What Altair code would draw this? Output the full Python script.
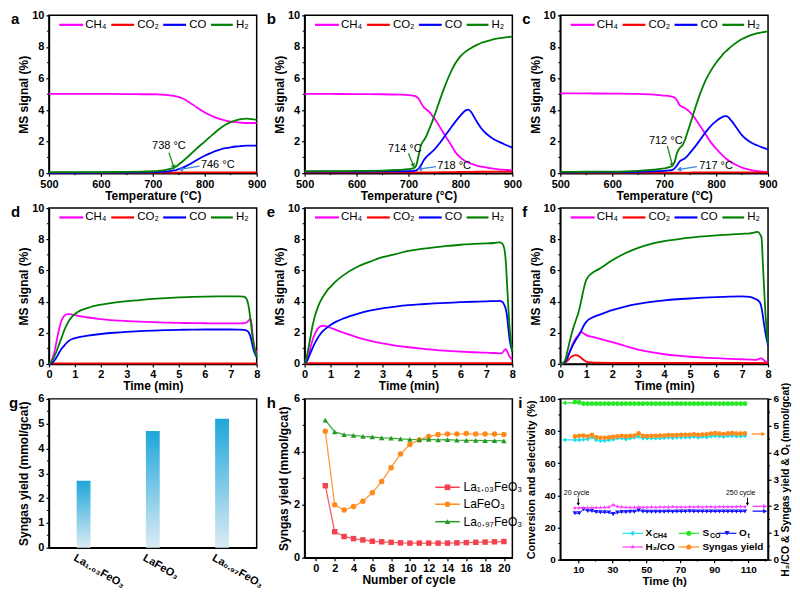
import math
import altair as alt
import pandas as pd

FONT = "Liberation Sans"

# ---------------- panels a-c : temperature-programmed ----------------
TEMP = [500, 550, 600, 650, 680, 700, 710, 715, 720, 725, 730, 735, 740, 745, 750,
        760, 770, 780, 790, 800, 810, 815, 820, 830, 840, 850, 860, 870, 880, 890, 900]

A_CH4 = [5.02, 5.02, 5.02, 5.01, 5.0, 5.0, 4.99, 4.98, 4.97, 4.96, 4.94, 4.92, 4.9, 4.87, 4.82,
         4.7, 4.5, 4.28, 4.05, 3.85, 3.68, 3.6, 3.53, 3.42, 3.33, 3.27, 3.23, 3.2, 3.18, 3.18, 3.18]
A_CO2 = [0.04, 0.04, 0.04, 0.04, 0.04, 0.04, 0.04, 0.04, 0.04, 0.04, 0.04, 0.04, 0.04, 0.04, 0.04,
         0.05, 0.05, 0.05, 0.05, 0.05, 0.05, 0.05, 0.05, 0.05, 0.05, 0.05, 0.05, 0.05, 0.05, 0.05, 0.05]
A_CO = [0.02, 0.02, 0.03, 0.04, 0.05, 0.06, 0.07, 0.08, 0.09, 0.1, 0.12, 0.14, 0.17, 0.2, 0.25,
        0.38, 0.55, 0.74, 0.93, 1.1, 1.25, 1.32, 1.4, 1.5, 1.58, 1.64, 1.69, 1.72, 1.74, 1.75, 1.74]
A_H2 = [0.06, 0.06, 0.07, 0.08, 0.1, 0.12, 0.14, 0.16, 0.18, 0.21, 0.25, 0.28, 0.33, 0.42, 0.55,
        0.82, 1.12, 1.42, 1.72, 2.0, 2.3, 2.44, 2.58, 2.85, 3.07, 3.23, 3.35, 3.42, 3.45, 3.43, 3.38]

B_CH4 = [5.02, 5.02, 5.01, 5.0, 4.98, 4.95, 4.9, 4.85, 4.7, 4.4, 4.15, 4.02, 3.88, 3.68, 3.46,
         2.95, 2.4, 1.9, 1.35, 0.98, 0.75, 0.66, 0.6, 0.5, 0.42, 0.36, 0.3, 0.26, 0.22, 0.2, 0.18]
B_CO2 = [0.05, 0.05, 0.05, 0.05, 0.05, 0.05, 0.05, 0.05, 0.05, 0.05, 0.05, 0.05, 0.05, 0.05, 0.05,
         0.06, 0.06, 0.07, 0.07, 0.08, 0.08, 0.08, 0.08, 0.09, 0.09, 0.09, 0.1, 0.1, 0.1, 0.1, 0.1]
B_CO = [0.1, 0.1, 0.1, 0.11, 0.12, 0.13, 0.15, 0.18, 0.3, 0.55, 0.85, 1.05, 1.2, 1.35, 1.5,
        1.9, 2.35, 2.8, 3.25, 3.65, 3.98, 4.03, 3.9, 3.35, 2.85, 2.5, 2.25, 2.05, 1.9, 1.75, 1.62]
B_H2 = [0.12, 0.13, 0.14, 0.16, 0.2, 0.25, 0.32, 0.5, 1.2, 1.85, 2.1, 2.4, 2.8, 3.2, 3.65,
        4.6, 5.5, 6.3, 6.95, 7.4, 7.7, 7.82, 7.92, 8.1, 8.25, 8.35, 8.45, 8.52, 8.57, 8.62, 8.66]

C_CH4 = [5.05, 5.05, 5.04, 5.02, 4.98, 4.92, 4.88, 4.85, 4.8, 4.6, 4.3, 4.2, 4.12, 4.0, 3.85,
         3.45, 2.95, 2.45, 1.95, 1.55, 1.2, 1.05, 0.9, 0.68, 0.5, 0.35, 0.25, 0.18, 0.13, 0.1, 0.08]
C_CO2 = [0.04, 0.04, 0.04, 0.04, 0.04, 0.04, 0.04, 0.04, 0.04, 0.04, 0.04, 0.04, 0.04, 0.04, 0.04,
         0.05, 0.05, 0.05, 0.05, 0.05, 0.05, 0.05, 0.05, 0.05, 0.05, 0.05, 0.05, 0.05, 0.05, 0.05, 0.05]
C_CO = [0.05, 0.06, 0.07, 0.09, 0.12, 0.15, 0.18, 0.2, 0.3, 0.5, 0.75, 0.85, 0.95, 1.1, 1.3,
        1.7, 2.15, 2.6, 3.0, 3.3, 3.52, 3.6, 3.62, 3.3, 2.85, 2.4, 2.1, 1.9, 1.75, 1.62, 1.5]
C_H2 = [0.08, 0.09, 0.1, 0.15, 0.22, 0.3, 0.38, 0.45, 0.7, 1.3, 1.6, 1.75, 2.1, 2.6, 3.1,
        4.15, 5.1, 5.9, 6.5, 7.0, 7.4, 7.6, 7.75, 8.05, 8.3, 8.5, 8.65, 8.78, 8.87, 8.93, 8.98]

# annotations (temperature, signal) : labels and arrows (start -> end)
A_LBL = ["738 °C", "746 °C"]; A_LBL_X = [731, 825]; A_LBL_Y = [1.72, 0.49]
A_ARR = [(731, 1.3, 740, 0.42), (790, 0.45, 755, 0.25)]
B_LBL = ["714 °C", "718 °C"]; B_LBL_X = [693, 788]; B_LBL_Y = [1.55, 0.44]
B_ARR = [(700, 1.25, 709, 0.52), (753, 0.42, 723, 0.27)]
C_LBL = ["712 °C", "717 °C"]; C_LBL_X = [703, 800]; C_LBL_Y = [2.03, 0.48]
C_ARR = [(706, 1.73, 715.5, 0.55), (763, 0.42, 730, 0.24)]

# ---------------- panels d-f : isothermal time series ----------------
TIME = [0, 0.1, 0.2, 0.3, 0.4, 0.5, 0.6, 0.7, 0.8, 0.9, 1.0, 1.2, 1.5, 2.0, 2.5, 3.0, 3.5,
        4.0, 4.5, 5.0, 5.5, 6.0, 6.5, 7.0, 7.3, 7.5, 7.6, 7.7, 7.75, 7.8, 7.85, 7.9, 8.0]

D_CH4 = [0, 0.2, 0.7, 1.5, 2.3, 2.85, 3.1, 3.2, 3.2, 3.17, 3.13, 3.07, 2.98, 2.88, 2.8, 2.75, 2.71,
         2.68, 2.65, 2.63, 2.62, 2.61, 2.6, 2.6, 2.6, 2.62, 2.65, 2.8, 2.9, 2.6, 1.8, 1.2, 0.7]
D_CO2 = [0, 0.03, 0.04, 0.04, 0.04, 0.04, 0.04, 0.04, 0.04, 0.04, 0.04, 0.04, 0.04, 0.04, 0.04, 0.04, 0.04,
         0.04, 0.04, 0.04, 0.04, 0.04, 0.04, 0.04, 0.04, 0.04, 0.04, 0.04, 0.04, 0.04, 0.04, 0.04, 0.04]
D_CO = [0, 0.05, 0.2, 0.45, 0.75, 1.0, 1.2, 1.38, 1.52, 1.6, 1.65, 1.73, 1.82, 1.92, 2.0, 2.06, 2.1,
        2.14, 2.17, 2.19, 2.2, 2.21, 2.21, 2.21, 2.2, 2.19, 2.15, 2.0, 1.8, 1.5, 1.1, 0.8, 0.45]
D_H2 = [0, 0.15, 0.45, 0.85, 1.3, 1.75, 2.2, 2.55, 2.85, 3.05, 3.2, 3.42, 3.6, 3.8, 3.93, 4.03, 4.1,
        4.17, 4.22, 4.27, 4.3, 4.32, 4.33, 4.33, 4.33, 4.32, 4.2, 3.6, 3.0, 2.3, 1.6, 1.1, 0.45]

E_CH4 = [0, 0.3, 0.9, 1.5, 1.95, 2.25, 2.4, 2.45, 2.43, 2.38, 2.32, 2.18, 2.0, 1.72, 1.5, 1.32, 1.18,
         1.07, 0.98, 0.9, 0.84, 0.79, 0.75, 0.72, 0.7, 0.68, 0.7, 0.9, 0.95, 0.8, 0.6, 0.45, 0.3]
E_CO2 = [0, 0.04, 0.05, 0.05, 0.05, 0.05, 0.05, 0.05, 0.05, 0.05, 0.05, 0.05, 0.05, 0.05, 0.05, 0.05, 0.05,
         0.05, 0.05, 0.05, 0.05, 0.05, 0.05, 0.05, 0.05, 0.05, 0.05, 0.05, 0.05, 0.05, 0.05, 0.05, 0.05]
E_CO = [0, 0.2, 0.6, 1.0, 1.35, 1.65, 1.9, 2.1, 2.25, 2.38, 2.5, 2.7, 2.92, 3.2, 3.42, 3.57, 3.68,
        3.77, 3.83, 3.88, 3.92, 3.96, 3.99, 4.02, 4.03, 4.04, 4.0, 3.75, 3.5, 3.0, 2.2, 1.5, 0.8]
E_H2 = [0, 0.6, 1.5, 2.4, 3.1, 3.6, 4.0, 4.3, 4.55, 4.78, 4.95, 5.3, 5.7, 6.2, 6.55, 6.85, 7.05,
        7.25, 7.38, 7.48, 7.57, 7.65, 7.7, 7.74, 7.76, 7.8, 7.75, 7.3, 6.5, 5.0, 3.5, 2.2, 0.8]

F_CH4 = [0, 0.02, 0.15, 0.5, 0.95, 1.35, 1.65, 1.85, 2.05, 1.95, 1.85, 1.75, 1.62, 1.4, 1.15, 0.92, 0.75,
         0.62, 0.53, 0.46, 0.41, 0.37, 0.33, 0.3, 0.28, 0.26, 0.27, 0.35, 0.36, 0.3, 0.22, 0.15, 0.1]
F_CO2 = [0, 0.02, 0.1, 0.25, 0.42, 0.53, 0.56, 0.52, 0.4, 0.25, 0.15, 0.1, 0.08, 0.07, 0.07, 0.07, 0.07,
         0.07, 0.07, 0.07, 0.07, 0.07, 0.07, 0.07, 0.07, 0.07, 0.07, 0.07, 0.07, 0.06, 0.06, 0.05, 0.05]
F_CO = [0, 0.02, 0.15, 0.5, 0.9, 1.25, 1.55, 1.8, 2.1, 2.45, 2.7, 2.95, 3.15, 3.45, 3.68, 3.85, 3.98,
        4.08, 4.15, 4.2, 4.25, 4.29, 4.32, 4.33, 4.3, 4.18, 4.1, 3.9, 3.6, 3.1, 2.5, 2.0, 1.2]
F_H2 = [0, 0.05, 0.3, 1.0, 1.7, 2.3, 2.8, 3.3, 4.0, 4.8, 5.4, 5.8, 6.1, 6.65, 7.1, 7.45, 7.7,
        7.88, 8.0, 8.1, 8.18, 8.25, 8.3, 8.35, 8.38, 8.45, 8.47, 8.3, 8.1, 6.5, 4.8, 3.2, 1.3]

# ---------------- panel g : syngas yield bars ----------------
G_CATS = ["La₁.₀₃FeO₃", "LaFeO₃", "La₀.₉₇FeO₃"]
G_VALS = [2.7, 4.7, 5.2]

# ---------------- panel h : cycling ----------------
H_CYCLE = [1, 2, 3, 4, 5, 6, 7, 8, 9, 10, 11, 12, 13, 14, 15, 16, 17, 18, 19, 20]
H_LA103 = [2.72, 0.98, 0.80, 0.72, 0.67, 0.62, 0.60, 0.58, 0.56, 0.55,
           0.55, 0.55, 0.55, 0.55, 0.56, 0.57, 0.58, 0.59, 0.60, 0.61]
H_LAFE = [4.78, 2.00, 1.80, 1.93, 2.13, 2.45, 2.88, 3.40, 3.92, 4.28,
          4.45, 4.58, 4.65, 4.67, 4.67, 4.69, 4.67, 4.67, 4.67, 4.65]
H_LA097 = [5.20, 4.75, 4.65, 4.62, 4.58, 4.56, 4.53, 4.52, 4.49, 4.47,
           4.46, 4.47, 4.45, 4.46, 4.44, 4.43, 4.43, 4.42, 4.42, 4.41]
H_NAMES = ["La₁.₀₃FeO₃", "LaFeO₃", "La₀.₉₇FeO₃"]

# ---------------- panel i : long-term stability ----------------
I_TIME = [8, 10.5, 13, 15.5, 18, 20.5, 23, 25.5, 28, 30.5, 33, 35.5, 38, 40.5, 43, 45.5, 48, 50.5,
          53, 55.5, 58, 60.5, 63, 65.5, 68, 70.5, 73, 75.5, 78, 80.5, 83, 85.5, 88, 90.5, 93, 95.5,
          98, 100.5, 103, 105.5, 108]
I_XCH4 = [74.5, 74.5, 74.8, 75.0, 76.0, 74.5, 74.0, 74.0, 74.5, 74.8, 75.5, 75.5, 75.0, 75.5, 76.0,
          76.5, 75.5, 75.5, 75.5, 75.5, 75.5, 75.8, 76.0, 75.8, 76.0, 76.0, 76.2, 76.2, 76.5, 76.0,
          76.5, 76.2, 76.8, 77.0, 76.8, 76.5, 77.0, 77.0, 76.8, 76.8, 77.0]
I_SCO = [98.0, 97.8, 97.0, 97.0, 97.1, 97.0, 97.0, 97.1, 97.0, 97.1, 97.0, 97.0, 97.0, 97.1, 97.0,
         97.0, 97.0, 97.1, 97.0, 97.0, 97.0, 97.0, 97.1, 97.0, 97.0, 97.0, 97.0, 97.1, 97.0, 97.0,
         97.0, 97.0, 97.1, 97.0, 97.0, 97.0, 97.0, 97.0, 97.1, 97.0, 97.0]
I_SYN = [4.60, 4.62, 4.63, 4.60, 4.66, 4.57, 4.55, 4.55, 4.56, 4.58, 4.60, 4.62, 4.60, 4.62, 4.63,
         4.71, 4.62, 4.61, 4.62, 4.62, 4.63, 4.63, 4.65, 4.64, 4.65, 4.66, 4.66, 4.66, 4.68, 4.66,
         4.67, 4.68, 4.70, 4.72, 4.70, 4.69, 4.71, 4.72, 4.70, 4.70, 4.71]
I_H2CO = [1.93, 1.93, 1.93, 1.94, 1.94, 1.94, 1.94, 1.95, 1.96, 2.04, 1.98, 1.96, 1.95, 1.95, 1.95,
          1.96, 1.95, 1.95, 1.96, 1.95, 1.96, 1.96, 1.96, 1.97, 1.96, 1.96, 1.96, 1.97, 1.96, 1.97,
          1.96, 1.97, 1.97, 1.96, 1.97, 1.97, 1.97, 1.97, 1.97, 1.98, 1.97]
I_OT = [1.73, 1.73, 1.88, 1.82, 1.82, 1.78, 1.77, 1.77, 1.76, 1.70, 1.76, 1.78, 1.78, 1.79, 1.79,
        1.84, 1.80, 1.79, 1.79, 1.79, 1.79, 1.79, 1.80, 1.79, 1.80, 1.80, 1.80, 1.81, 1.80, 1.80,
        1.80, 1.80, 1.80, 1.80, 1.80, 1.80, 1.80, 1.80, 1.80, 1.80, 1.80]

# ---------------- layout / style ----------------
W = 208
H_ROW1 = 158
H_ROW2 = 156
H_G = 149
H_H = 159
H_I = 161
LETTER_X = -38

MS_NAMES = ["CH₄", "CO₂", "CO", "H₂"]
MS_COLORS = ["#ff00ff", "#ff0000", "#0000ff", "#008000"]
LEG_LINE = [(0.05, 0.165), (0.3, 0.41), (0.55, 0.66), (0.78, 0.885)]
LEG_TEXT = [0.175, 0.425, 0.675, 0.9]
LEG_Y = 9.4

STAR = ("M0,-1L0.235,-0.324L0.951,-0.309L0.38,0.124L0.588,0.809L0,0.4"
        "L-0.588,0.809L-0.38,0.124L-0.951,-0.309L-0.235,-0.324Z")


def ax(**kw):
    return alt.Axis(labelOverlap=False, labelFlush=False, labelBound=False, **kw)


def enc_factory(channel, scale, axis):
    """Identical positional encodings (same scale + axis) for every layer of a panel."""
    def make(field):
        return channel(f"{field}:Q", scale=scale, axis=axis)
    return make


def letter_layer(ch, xpix=LETTER_X):
    return alt.Chart(pd.DataFrame({"t": [ch]})).mark_text(
        align="left", baseline="alphabetic", font=FONT, fontSize=15, fontWeight="bold", color="black"
    ).encode(text="t:N", x=alt.value(xpix), y=alt.value(9))


def minor_x(vals, h, XE):
    return alt.Chart(pd.DataFrame({"x": vals})).mark_rule(color="black", strokeWidth=1).encode(
        x=XE("x"), y=alt.value(h), y2=alt.value(h + 2))


def minor_y(vals, YE, xpix=0, sign=-1):
    return alt.Chart(pd.DataFrame({"y": vals})).mark_rule(color="black", strokeWidth=1).encode(
        y=YE("y"), x=alt.value(xpix), x2=alt.value(xpix + sign * 2))


def arrow(spec, color, sx, sy, XE, YE, size=26, width=1.3):
    x1, y1, x2, y2 = spec
    rule = alt.Chart(pd.DataFrame({"x": [x1], "y": [y1], "x2": [x2], "y2": [y2]})).mark_rule(
        color=color, strokeWidth=width).encode(x=XE("x"), y=YE("y"), x2="x2:Q", y2="y2:Q")
    dxp = (x2 - x1) * sx
    dyp = -(y2 - y1) * sy
    ang = math.degrees(math.atan2(dxp, -dyp)) % 360
    head = alt.Chart(pd.DataFrame({"x": [x2], "y": [y2]})).mark_point(
        shape="triangle", filled=True, color=color, size=size, angle=ang, opacity=1, strokeWidth=0
    ).encode(x=XE("x"), y=YE("y"))
    return [rule, head]


def long_df(xs, names, series):
    rows = []
    for name, vals in zip(names, series):
        for xv, yv in zip(xs, vals):
            rows.append({"x": xv, "y": yv, "s": name})
    return pd.DataFrame(rows)


def ms_panel(letter, xs, series, xdom, xvals, xminor, xtitle, height, lbl=None, arrows=None):
    XE = enc_factory(alt.X, alt.Scale(domain=xdom, nice=False, zero=False),
                     ax(values=xvals, title=xtitle, format="d"))
    YE = enc_factory(alt.Y, alt.Scale(domain=[0, 10], nice=False),
                     ax(values=[0, 2, 4, 6, 8, 10], title="MS signal (%)"))
    df = long_df(xs, MS_NAMES, series)
    color = alt.Color("s:N", scale=alt.Scale(domain=MS_NAMES, range=MS_COLORS), legend=None)
    lines = alt.Chart(df).mark_line(strokeWidth=1.8, interpolate="monotone").encode(
        x=XE("x"), y=YE("y"), color=color)
    span = xdom[1] - xdom[0]
    leg = pd.DataFrame({
        "s": MS_NAMES,
        "x": [xdom[0] + a * span for a, b in LEG_LINE],
        "x2": [xdom[0] + b * span for a, b in LEG_LINE],
        "y": [LEG_Y] * 4,
    })
    leg_lines = alt.Chart(leg).mark_rule(strokeWidth=2.2).encode(
        x=XE("x"), x2="x2:Q", y=YE("y"), color=color)
    legt = pd.DataFrame({"label": MS_NAMES, "x": [xdom[0] + t * span for t in LEG_TEXT], "y": [LEG_Y] * 4})
    leg_text = alt.Chart(legt).mark_text(align="left", baseline="middle", font=FONT, fontSize=11.5,
                                          color="black").encode(x=XE("x"), y=YE("y"), text="label:N")
    layers = [lines, leg_lines, leg_text]
    sx = W / span
    sy = height / 10
    if lbl is not None:
        tdf = pd.DataFrame({"label": lbl[0], "x": lbl[1], "y": lbl[2]})
        layers.append(alt.Chart(tdf).mark_text(font=FONT, fontSize=11, color="black").encode(
            x=XE("x"), y=YE("y"), text="label:N"))
    if arrows is not None:
        layers += arrow(arrows[0], "#1c8c1c", sx, sy, XE, YE)
        layers += arrow(arrows[1], "#3a86e8", sx, sy, XE, YE)
    if xminor:
        layers.append(minor_x(xminor, height, XE))
    layers.append(minor_y([1, 3, 5, 7, 9], YE))
    layers.append(letter_layer(letter))
    return alt.layer(*layers).properties(width=W, height=height)


T_DOM = [500, 900]
T_VALS = [500, 600, 700, 800, 900]
T_MINOR = [550, 650, 750, 850]
TT = "Temperature (°C)"
pa = ms_panel("a", TEMP, [A_CH4, A_CO2, A_CO, A_H2], T_DOM, T_VALS, T_MINOR, TT, H_ROW1,
              (A_LBL, A_LBL_X, A_LBL_Y), A_ARR)
pb = ms_panel("b", TEMP, [B_CH4, B_CO2, B_CO, B_H2], T_DOM, T_VALS, T_MINOR, TT, H_ROW1,
              (B_LBL, B_LBL_X, B_LBL_Y), B_ARR)
pc = ms_panel("c", TEMP, [C_CH4, C_CO2, C_CO, C_H2], T_DOM, T_VALS, T_MINOR, TT, H_ROW1,
              (C_LBL, C_LBL_X, C_LBL_Y), C_ARR)

M_DOM = [0, 8]
M_VALS = [0, 1, 2, 3, 4, 5, 6, 7, 8]
MT = "Time (min)"
pd_ = ms_panel("d", TIME, [D_CH4, D_CO2, D_CO, D_H2], M_DOM, M_VALS, None, MT, H_ROW2)
pe = ms_panel("e", TIME, [E_CH4, E_CO2, E_CO, E_H2], M_DOM, M_VALS, None, MT, H_ROW2)
pf = ms_panel("f", TIME, [F_CH4, F_CO2, F_CO, F_H2], M_DOM, M_VALS, None, MT, H_ROW2)

# ---- g ----
grad = alt.LinearGradient(
    gradient="linear",
    stops=[alt.GradientStop(color="#1ea6da", offset=0), alt.GradientStop(color="#dcebf4", offset=1)],
    x1=1, x2=1, y1=0, y2=1,
)
G_YE = enc_factory(alt.Y, alt.Scale(domain=[0, 6], nice=False),
                   ax(values=[0, 1, 2, 3, 4, 5, 6], title="Syngas yield (mmol/gcat)", titlePadding=7))
g_bars = alt.Chart(pd.DataFrame({"x": G_CATS, "y": G_VALS})).mark_bar(color=grad).encode(
    x=alt.X("x:N", sort=G_CATS, scale=alt.Scale(paddingInner=0.8, paddingOuter=0.4),
            axis=ax(title=None, labelAngle=30, labelAlign="left", labelBaseline="top",
                    labelOffset=-6, labelPadding=4, ticks=False, labelFontSize=11)),
    y=G_YE("y"),
)
pg = alt.layer(g_bars, minor_y([0.5, 1.5, 2.5, 3.5, 4.5, 5.5], G_YE), letter_layer("g", -40)).properties(
    width=W, height=H_G)

# ---- h ----
H_COLORS = ["#f2434c", "#ff8a1c", "#229a22"]
H_SHAPES = ["square", "circle", "triangle-up"]
H_XE = enc_factory(alt.X, alt.Scale(domain=[-1.2, 20.9], nice=False, zero=False),
                   ax(values=[0, 2, 4, 6, 8, 10, 12, 14, 16, 18, 20], title="Number of cycle"))
H_YE = enc_factory(alt.Y, alt.Scale(domain=[0, 6], nice=False),
                   ax(values=[0, 2, 4, 6], title="Syngas yield (mmol/gcat)", titlePadding=3))
h_df = long_df(H_CYCLE, H_NAMES, [H_LA103, H_LAFE, H_LA097])
h_color = alt.Color("s:N", scale=alt.Scale(domain=H_NAMES, range=H_COLORS), legend=None)
h_shape = alt.Shape("s:N", scale=alt.Scale(domain=H_NAMES, range=H_SHAPES), legend=None)
h_lines = alt.Chart(h_df).mark_line(strokeWidth=1.3, opacity=0.85).encode(
    x=H_XE("x"), y=H_YE("y"), color=h_color)
h_pts = alt.Chart(h_df).mark_point(filled=True, size=30, opacity=1).encode(
    x=H_XE("x"), y=H_YE("y"), color=h_color, shape=h_shape)
H_LEG_Y = [2.66, 2.02, 1.36]
h_leg = pd.DataFrame({"s": H_NAMES, "x": [12.7] * 3, "x2": [15.3] * 3, "xm": [14.0] * 3,
                      "xt": [15.7] * 3, "y": H_LEG_Y})
h_leg_l = alt.Chart(h_leg).mark_rule(strokeWidth=1.5).encode(
    x=H_XE("x"), x2="x2:Q", y=H_YE("y"), color=h_color)
h_leg_p = alt.Chart(h_leg).mark_point(filled=True, size=32, opacity=1).encode(
    x=H_XE("xm"), y=H_YE("y"), color=h_color, shape=h_shape)
h_leg_t = alt.Chart(h_leg).mark_text(align="left", baseline="middle", font=FONT, fontSize=12,
                                     color="black").encode(x=H_XE("xt"), y=H_YE("y"), text="s:N")
ph = alt.layer(h_lines, h_pts, h_leg_l, h_leg_p, h_leg_t, minor_y([1, 3, 5], H_YE),
               letter_layer("h")).properties(width=W, height=H_H)

# ---- i ----
I_NAMES = ["XCH4", "SCO", "Ot", "H2CO", "SYN"]
I_COLORS = ["#1fe0ee", "#22e822", "#1414ff", "#ff3cff", "#ff8a1a"]
I_SHAPES = ["diamond", "circle", "triangle-down", STAR, "circle"]
i_color = alt.Color("s:N", scale=alt.Scale(domain=I_NAMES, range=I_COLORS), legend=None)
i_shape = alt.Shape("s:N", scale=alt.Scale(domain=I_NAMES, range=I_SHAPES), legend=None)
I_XDOM = [-0.6, 121.6]
isx = W / (I_XDOM[1] - I_XDOM[0])
I_XE = enc_factory(alt.X, alt.Scale(domain=I_XDOM, nice=False, zero=False),
                   ax(values=[10, 30, 50, 70, 90, 110], title="Time (h)", labelFontSize=10,
                      titleFontSize=11.5))
I_YL = enc_factory(alt.Y, alt.Scale(domain=[0, 100], nice=False),
                   ax(values=[0, 20, 40, 60, 80, 100], title="Conversion and selectivity (%)",
                      titlePadding=2, labelFontSize=10, titleFontSize=11))
I_YR = enc_factory(alt.Y, alt.Scale(domain=[0, 6], nice=False),
                   ax(orient="right", values=[0, 1, 2, 3, 4, 5, 6],
                      title="H₂/CO & Syngas yield & Oₜ (mmol/gcat)", titleAngle=270,
                      titleBaseline="top", titlePadding=2, labelFontSize=10, titleFontSize=10.5))

il_df = long_df(I_TIME, ["XCH4", "SCO"], [I_XCH4, I_SCO])
ir_df = long_df(I_TIME, ["Ot", "H2CO", "SYN"], [I_OT, I_H2CO, I_SYN])

il_lines = alt.Chart(il_df).mark_line(strokeWidth=1).encode(x=I_XE("x"), y=I_YL("y"), color=i_color)
il_pts = alt.Chart(il_df).mark_point(filled=True, size=22, opacity=1).encode(
    x=I_XE("x"), y=I_YL("y"), color=i_color, shape=i_shape)

I_LEG = pd.DataFrame({
    "s": I_NAMES,
    "x": [36, 69, 92, 36, 69],
    "x2": [48, 81, 103, 48, 81],
    "xm": [42, 75, 97.5, 42, 75],
    "y": [16.4, 16.4, 16.4, 7.9, 7.9],
})
I_LEG_TXT = pd.DataFrame({"label": ["X", "S", "O", "H₂/CO", "Syngas yield"],
                          "x": [49.5, 83, 104.5, 49.5, 83], "y": [16.4, 16.4, 16.4, 7.9, 7.9]})
I_SUBS = [("CH4", 49.5, 16.4, 7.5), ("CO", 83, 16.4, 7.5), ("t", 104.5, 16.4, 8.5)]

i_leg_l = alt.Chart(I_LEG).mark_rule(strokeWidth=1.2).encode(
    x=I_XE("x"), x2="x2:Q", y=I_YL("y"), color=i_color)
i_leg_p = alt.Chart(I_LEG).mark_point(filled=True, size=26, opacity=1).encode(
    x=I_XE("xm"), y=I_YL("y"), color=i_color, shape=i_shape)
i_leg_t = alt.Chart(I_LEG_TXT).mark_text(align="left", baseline="middle", font=FONT, fontSize=10,
                                         fontWeight="bold", color="black").encode(
    x=I_XE("x"), y=I_YL("y"), text="label:N")
i_subs = []
for sub, sxv, syv, ddx in I_SUBS:
    i_subs.append(alt.Chart(pd.DataFrame({"label": [sub], "x": [sxv], "y": [syv]})).mark_text(
        align="left", baseline="middle", font=FONT, fontSize=7, fontWeight="bold", color="black",
        dx=ddx, dy=3).encode(x=I_XE("x"), y=I_YL("y"), text="label:N"))

I_NOTE = pd.DataFrame({"label": ["20 cycle", "250 cycle"], "x": [9, 105.5], "y": [41.5, 41.5]})
i_note = alt.Chart(I_NOTE).mark_text(font=FONT, fontSize=7, color="black").encode(
    x=I_XE("x"), y=I_YL("y"), text="label:N")

isy_l = H_I / 100
isy_r = H_I / 6
i_left_layers = [il_lines, il_pts, i_leg_l, i_leg_p, i_leg_t] + i_subs + [i_note]
i_left_layers += arrow((10, 38.5, 10, 34.8), "black", isx, isy_l, I_XE, I_YL, size=12, width=1)
i_left_layers += arrow((109.5, 38.5, 109.5, 34.8), "black", isx, isy_l, I_XE, I_YL, size=12, width=1)
i_left_layers += arrow((7, 97.5, 2, 97.5), "#22e822", isx, isy_l, I_XE, I_YL, size=22)
i_left_layers += arrow((7, 74.5, 2, 74.5), "#1fe0ee", isx, isy_l, I_XE, I_YL, size=22)
i_left_layers += [minor_x([20, 40, 60, 80, 100, 120], H_I, I_XE), minor_y([10, 30, 50, 70, 90], I_YL),
                  letter_layer("i", -42)]
i_left = alt.layer(*i_left_layers)

ir_lines = alt.Chart(ir_df).mark_line(strokeWidth=1).encode(x=I_XE("x"), y=I_YR("y"), color=i_color)
ir_pts = alt.Chart(ir_df).mark_point(filled=True, size=22, opacity=1).encode(
    x=I_XE("x"), y=I_YR("y"), color=i_color, shape=i_shape)
i_right_layers = [ir_lines, ir_pts]
i_right_layers += arrow((112, 4.69, 118.5, 4.69), "#ff8a1a", isx, isy_r, I_XE, I_YR, size=22)
i_right_layers += arrow((112.5, 1.99, 119.5, 1.99), "#ff3cff", isx, isy_r, I_XE, I_YR, size=22)
i_right_layers += arrow((112.5, 1.81, 119.5, 1.81), "#1414ff", isx, isy_r, I_XE, I_YR, size=22)
i_right_layers += [minor_y([0.5, 1.5, 2.5, 3.5, 4.5, 5.5], I_YR, xpix=W, sign=1)]
i_right = alt.layer(*i_right_layers)

pi = alt.layer(i_left, i_right).resolve_scale(y="independent").properties(width=W, height=H_I)

chart = alt.concat(
    pa, pb, pc, pd_, pe, pf, pg, ph, pi,
    columns=3,
    spacing=alt.RowColnumber(row=35, column=48),
    bounds="flush",
).resolve_scale(color="independent", shape="independent").properties(
    padding={"left": 0, "top": 0, "right": 0, "bottom": 2}
).configure(font=FONT).configure_view(
    stroke="black", strokeWidth=1.5
).configure_axis(
    grid=False,
    domainColor="black", domainWidth=1.5,
    tickColor="black", tickWidth=1.2, tickSize=3,
    labelFont=FONT, labelFontSize=11, labelFontWeight="bold", labelColor="black", labelPadding=2,
    labelFlush=False, labelOverlap=False,
    titleFont=FONT, titleFontSize=12, titleFontWeight="bold", titleColor="black", titlePadding=1,
)

chart.save("out.html", embed_options={"renderer": "svg", "actions": False})
